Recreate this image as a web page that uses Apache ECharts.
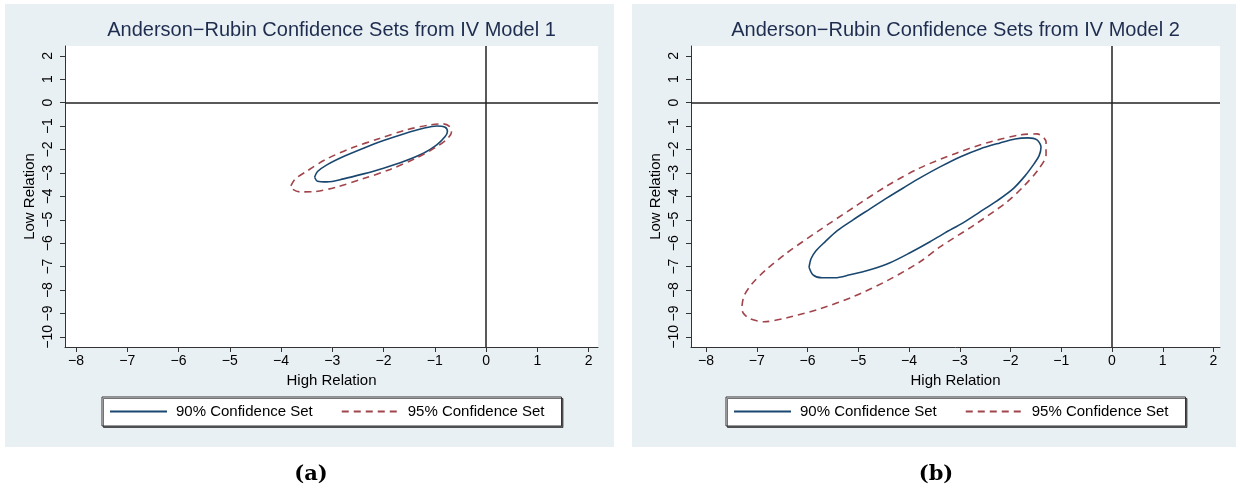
<!DOCTYPE html>
<html><head><meta charset="utf-8">
<script src="https://cdn.jsdelivr.net/npm/echarts@6/dist/echarts.min.js"></script>
<style>html,body{margin:0;padding:0;background:#fff}#c{width:1240px;height:492px}</style>
</head><body><div id="c"></div>
<script>
// ---- data ----
const xTicks = [-8,-7,-6,-5,-4,-3,-2,-1,0,1,2];
const yTicks = [-10,-9,-8,-7,-6,-5,-4,-3,-2,-1,0,1,2];
const titles = ['Anderson\u2212Rubin Confidence Sets from IV Model 1', 'Anderson\u2212Rubin Confidence Sets from IV Model 2'];
const captions = ['(a)', '(b)'];
const xTitle = 'High Relation';
const yTitle = 'Low Relation';
const seriesNames = ['90% Confidence Set', '95% Confidence Set'];

// Model 1, 90% set (boundary points)
const m1_90 = [[-3.346,-3.183],[-3.288,-2.941],[-3.106,-2.657],[-2.781,-2.301],[-2.391,-1.946],[-2.001,-1.619],[-1.611,-1.335],[-1.222,-1.093],[-0.962,-0.994],[-0.799,-1.050],[-0.754,-1.235],[-0.799,-1.449],[-0.962,-1.804],[-1.222,-2.159],[-1.611,-2.515],[-2.001,-2.799],[-2.391,-3.041],[-2.781,-3.254],[-3.106,-3.382],[-3.288,-3.353]];
// Model 1, 95% set
const m1_95 = [[-3.808,-3.552],[-3.723,-3.260],[-3.495,-2.920],[-3.119,-2.415],[-2.600,-1.916],[-2.080,-1.532],[-1.561,-1.165],[-1.105,-0.955],[-0.832,-0.905],[-0.702,-1.040],[-0.676,-1.264],[-0.754,-1.540],[-0.962,-1.880],[-1.352,-2.350],[-1.871,-2.850],[-2.391,-3.240],[-2.911,-3.600],[-3.366,-3.800],[-3.626,-3.810],[-3.769,-3.700]];
// Model 2, 90% set
const m2_90 = [[-5.970,-7.028],[-5.931,-6.665],[-5.833,-6.324],[-5.655,-5.940],[-5.419,-5.471],[-5.103,-5.002],[-4.768,-4.533],[-4.433,-4.064],[-4.079,-3.595],[-3.783,-3.211],[-3.389,-2.742],[-2.995,-2.316],[-2.601,-1.974],[-2.207,-1.719],[-1.911,-1.548],[-1.655,-1.505],[-1.478,-1.591],[-1.399,-1.889],[-1.438,-2.273],[-1.537,-2.614],[-1.714,-3.126],[-1.951,-3.680],[-2.266,-4.192],[-2.601,-4.661],[-2.936,-5.130],[-3.291,-5.557],[-3.586,-5.940],[-3.980,-6.409],[-4.374,-6.836],[-4.768,-7.134],[-5.163,-7.348],[-5.458,-7.476],[-5.714,-7.476],[-5.892,-7.348]];
// Model 2, 95% set
const m2_95 = [[-7.291,-8.670],[-7.251,-8.243],[-7.094,-7.731],[-6.818,-7.134],[-6.404,-6.409],[-5.754,-5.429],[-5.103,-4.490],[-4.433,-3.552],[-3.783,-2.785],[-3.054,-2.145],[-2.404,-1.676],[-1.813,-1.377],[-1.478,-1.335],[-1.300,-1.676],[-1.300,-2.230],[-1.458,-2.870],[-1.714,-3.510],[-2.069,-4.235],[-2.739,-5.258],[-3.389,-6.154],[-3.783,-6.793],[-4.433,-7.603],[-5.103,-8.286],[-5.754,-8.797],[-6.404,-9.181],[-6.857,-9.352],[-7.133,-9.224],[-7.271,-8.968]];

// ---- layout ----
const FONT = 'Liberation Sans';
const panels = [
  {bg:[5,4,609,443], grid:{left:65, top:46, width:533, height:301}, xr:[-8.214,2.183], legendLeft:102, capX:311},
  {bg:[632,4,604,443], grid:{left:691, top:46, width:529, height:301}, xr:[-8.296,2.128], legendLeft:726, capX:936}
];
const yr = [-10.43, 2.418];
const panelData = [[m1_90, m1_95], [m2_90, m2_95]];
const colors = ['#1a476f', '#a0454b'];

const fmt = v => (v < 0 ? '\u2212' + Math.abs(v) : String(v));
const close = arr => arr.concat([arr[0]]);

const graphic = [];
const grid = [], xAxis = [], yAxis = [], legend = [], series = [];
panels.forEach((p, i) => {
  graphic.push({type:'rect', z:-100, shape:{x:p.bg[0], y:p.bg[1], width:p.bg[2], height:p.bg[3]}, style:{fill:'#e9f0f3'}});
  const cx = p.grid.left + p.grid.width/2;
  graphic.push({type:'text', x:cx, y:30, style:{text:titles[i], font:'20px "Liberation Sans"', fill:'#1e2d4f', textAlign:'center', textVerticalAlign:'middle'}});
  graphic.push({type:'text', x:p.capX, y:475, style:{text:captions[i], font:'bold 21px "DejaVu Serif"', fill:'#000', textAlign:'center', textVerticalAlign:'middle'}});
  grid.push(Object.assign({show:true, backgroundColor:'#fff', borderWidth:0}, p.grid));
  xAxis.push({type:'value', gridIndex:i, min:p.xr[0], max:p.xr[1],
    name:xTitle, nameLocation:'middle', nameGap:24,
    nameTextStyle:{fontFamily:FONT, fontSize:15, color:'#000'},
    axisLine:{show:true, onZero:false, lineStyle:{color:'#333', width:1}},
    axisTick:{show:true, customValues:xTicks, length:5, lineStyle:{color:'#333'}},
    axisLabel:{customValues:xTicks, formatter:fmt, fontFamily:FONT, fontSize:14, color:'#000', margin:7},
    splitLine:{show:false}});
  yAxis.push({type:'value', gridIndex:i, min:yr[0], max:yr[1],
    name:yTitle, nameLocation:'middle', nameGap:28, nameRotate:90,
    nameTextStyle:{fontFamily:FONT, fontSize:15, color:'#000'},
    axisLine:{show:true, onZero:false, lineStyle:{color:'#333', width:1}},
    axisTick:{show:true, customValues:yTicks, length:5, lineStyle:{color:'#333'}},
    axisLabel:{customValues:yTicks, formatter:fmt, rotate:90, fontFamily:FONT, fontSize:14, color:'#000', margin:10},
    splitLine:{show:false}});
  legend.push({left:p.legendLeft, top:397, orient:'horizontal', data:seriesNames, selectedMode:false,
    itemWidth:57, itemHeight:14, itemGap:28, padding:[7,17,7,7],
    itemStyle:{opacity:0},
    backgroundColor:'#fff', borderColor:'#333', borderWidth:1,
    shadowColor:'rgba(0,0,0,0.55)', shadowOffsetX:1.5, shadowOffsetY:1.5, shadowBlur:0,
    textStyle:{fontFamily:FONT, fontSize:15, color:'#000', padding:[0,0,0,4]}});
  panelData[i].forEach((d, k) => {
    const s = {type:'line', name:seriesNames[k], xAxisIndex:i, yAxisIndex:i, data:close(d),
      symbol:'none', smooth:0.3, silent:true,
      lineStyle:{color:colors[k], width:1.6, type: k === 0 ? 'solid' : [7,5]},
      itemStyle:{color:colors[k]}};
    if (k === 0) {
      s.markLine = {silent:true, symbol:'none', label:{show:false}, animation:false,
        lineStyle:{color:'#222', width:1.5, type:'solid'}, data:[{xAxis:0},{yAxis:0}]};
    }
    series.push(s);
  });
});

const chart = echarts.init(document.getElementById('c'), null, {renderer:'canvas'});
chart.setOption({animation:false, graphic, grid, xAxis, yAxis, legend, series});
</script></body></html>
